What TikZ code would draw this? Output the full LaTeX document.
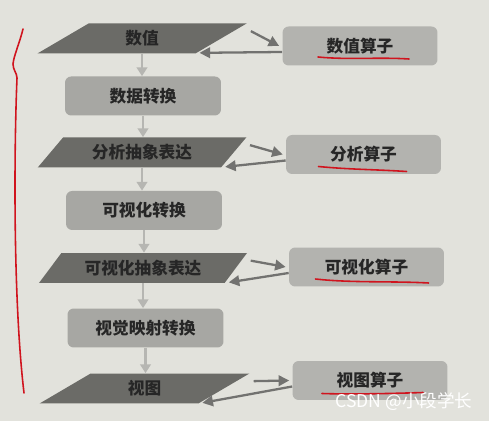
\documentclass[tikz,border=0pt]{standalone}
\usepackage{fontspec}
\setmainfont{Noto Sans CJK SC}
\usetikzlibrary{shapes.geometric,arrows.meta}
\definecolor{bg}{HTML}{E2E2DC}
\definecolor{paragray}{HTML}{6B6B67}
\definecolor{midgray}{HTML}{A7A7A3}
\definecolor{opgray}{HTML}{B3B3AF}
\definecolor{flowgray}{HTML}{B6B6B2}
\definecolor{sidegray}{HTML}{727270}
\definecolor{txt}{HTML}{262626}
\definecolor{pen}{HTML}{D0141E}
\tikzset{para/.style={trapezium,trapezium left angle=45,trapezium right angle=135,
   trapezium stretches=true,minimum width=4.2cm,minimum height=0.6cm,inner sep=0pt,
   fill=paragray,text=txt,font=\bfseries\fontsize{9.5}{10}\selectfont},
 midbox/.style={rectangle,rounded corners=3.5pt,minimum width=3.12cm,minimum height=0.78cm,
   fill=midgray,text=txt,font=\bfseries\fontsize{9.5}{10}\selectfont},
 opbox/.style={rectangle,rounded corners=3.5pt,minimum width=3.1cm,minimum height=0.78cm,
   fill=opgray,text=txt,font=\bfseries\fontsize{9.5}{10}\selectfont},
 flow/.style={draw=flowgray,line width=1.6pt,-{Triangle[width=6pt,length=5pt]}},
 side/.style={draw=sidegray,line width=1.3pt,-{Triangle[width=6pt,length=6pt]}},
 redline/.style={draw=pen,line width=0.9pt,line cap=round},
 }

\begin{document}
\begin{tikzpicture}[x=0.02cm,y=-0.02cm]
        \fill[bg] (0,0) rectangle (489,421);
        % left column
        \node[para] (v1) at (142,38.5) {数值};
        \node[midbox] (t1) at (143,96) {数据转换};
        \node[para] (v2) at (142,152.5) {分析抽象表达};
        \node[midbox] (t2) at (144,210.5) {可视化转换};
        \node[para] (v3) at (143,268) {可视化抽象表达};
        \node[midbox] (t3) at (145.5,328) {视觉映射转换};
        \node[para] (v4) at (144.5,388.5) {视图};
        % operators
        \node[opbox] (o1) at (360,46) {数值算子};
        \node[opbox] (o2) at (363.5,154.5) {分析算子};
        \node[opbox] (o3) at (366.5,267) {可视化算子};
        \node[opbox] (o4) at (370,380.5) {视图算子};
        % flow down
        \foreach \a/\b in {v1/t1, t1/v2, v2/t2, t2/v3, v3/t3, t3/v4} {
            \draw[flow] (\a.south) -- (\a.south |- \b.north);
        }
        % to and from the operators
        \foreach \a/\b in {v1/o1, v2/o2, v3/o3, v4/o4} {
            \draw[side] ([shift={(3,8)}]\a.top right corner) -- ([shift={(-3,0)}]\b.west);
            \draw[side] ([shift={(0,6)}]\b.west) -- ([shift={(4,-1)}]\a.bottom right corner);
        }
        % pen marks
        \draw[redline] ([shift={(-42,11)}]o1.center) .. controls +(30,3) and +(-30,-2) .. ([shift={(49,13)}]o1.center);
        \draw[redline] ([shift={(-45,12)}]o2.center) .. controls +(30,3) and +(-30,-2) .. ([shift={(43,17)}]o2.center);
        \draw[redline] ([shift={(-51,12)}]o3.center) .. controls +(35,4) and +(-35,-2) .. ([shift={(62,16)}]o3.center);
        \draw[redline] ([shift={(-48,13)}]o4.center) .. controls +(30,1) and +(-30,1) .. ([shift={(53,12)}]o4.center);
        \draw[redline] (23,29) .. controls (19,45) and (14,55) .. (13,64)
            .. controls (13,70) and (17,73) .. (17,78)
            .. controls (14,150) and (13,300) .. (24,393);
        \node[text=white,font=\fontsize{10}{11}\selectfont] (wm) at (404,402) {CSDN @小段学长};
\end{tikzpicture}
\end{document}
